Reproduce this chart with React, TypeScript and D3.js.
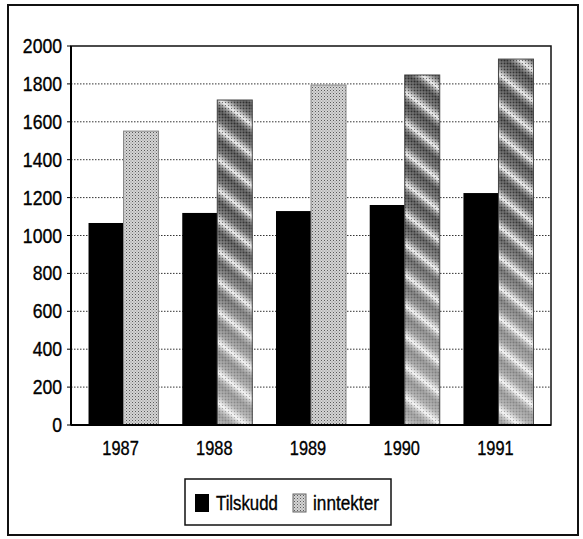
import * as d3 from 'd3';

const years = ['1987', '1988', '1989', '1990', '1991'];
const tilskudd = [1066, 1119, 1129, 1161, 1224];
const inntekter = [1551, 1715, 1794, 1847, 1931];
// fill style of the inntekter bar per year, as in the scanned print
const inntekterFill = ['stipple', 'stripes', 'stipple', 'stripes', 'stripes'];
const yTicks = [0, 200, 400, 600, 800, 1000, 1200, 1400, 1600, 1800, 2000];
const seriesNames = ['Tilskudd', 'inntekter'];

const W = 583;
const H = 539;
const plot = { left: 71, right: 551, top: 46, bottom: 425 };
const font = "'Liberation Sans', Arial, sans-serif";

// condensed text: Liberation Sans squeezed horizontally
function Narrow({ x, y, anchor = 'start', sx = 0.85, size = 20, children }: any) {
  return (
    <text
      transform={`translate(${x},${y}) scale(${sx},1)`}
      textAnchor={anchor}
      fontFamily={font}
      fontSize={size}
      fill="#000"
      stroke="#000"
      strokeWidth={0.35}
    >
      {children}
    </text>
  );
}

export default function App() {
  const y = d3.scaleLinear().domain([0, 2000]).range([plot.bottom, plot.top]);
  const x = d3
    .scaleBand<string>()
    .domain(years)
    .range([plot.left, plot.right])
    .paddingInner(0.253)
    .paddingOuter(0.187);
  const sub = d3
    .scaleBand<string>()
    .domain(seriesNames)
    .range([0, x.bandwidth()]);

  return (
    <svg
      width={W}
      height={H}
      style={{ position: 'absolute', left: 0, top: 0, background: '#fff' }}
    >
      <defs>
        <pattern id="stipple" width="3" height="3" patternUnits="userSpaceOnUse">
          <rect width="3" height="3" fill="#d4d4d4" />
          <rect x="0" y="0" width="1" height="1" fill="#5a5a5a" />
          <rect x="1.5" y="1.5" width="1" height="1" fill="#8a8a8a" />
        </pattern>
        <linearGradient id="band" x1="0" y1="0" x2="0" y2="1">
          <stop offset="0" stopColor="#4a4a4a" />
          <stop offset="0.35" stopColor="#6e6e6e" />
          <stop offset="0.55" stopColor="#c4c4c4" />
          <stop offset="0.65" stopColor="#ececec" />
          <stop offset="0.8" stopColor="#8a8a8a" />
          <stop offset="1" stopColor="#4a4a4a" />
        </linearGradient>
        <pattern
          id="stripeBase"
          width="24"
          height="24"
          patternUnits="userSpaceOnUse"
          patternTransform="rotate(38)"
        >
          <rect width="24" height="24" fill="url(#band)" />
        </pattern>
        <pattern id="dots" width="3" height="3" patternUnits="userSpaceOnUse">
          <rect x="0" y="0" width="1" height="1" fill="#111" opacity="0.55" />
          <rect x="1.5" y="1.5" width="1" height="1" fill="#fff" opacity="0.45" />
        </pattern>
        <linearGradient id="fade" x1="0" y1="0" x2="0" y2="1">
          <stop offset="0" stopColor="#fff" stopOpacity="0" />
          <stop offset="0.45" stopColor="#fff" stopOpacity="0.05" />
          <stop offset="0.75" stopColor="#fff" stopOpacity="0.35" />
          <stop offset="1" stopColor="#fff" stopOpacity="0.45" />
        </linearGradient>
      </defs>

      {/* outer frame */}
      <rect x={8} y={5} width={570} height={530} fill="none" stroke="#111" strokeWidth={2} />

      {/* grid */}
      {yTicks
        .filter((t) => t > 0 && t < 2000)
        .map((t) => (
          <line
            key={t}
            x1={plot.left}
            x2={plot.right}
            y1={y(t)}
            y2={y(t)}
            stroke="#333"
            strokeWidth={1}
            strokeDasharray="1.5,1.5"
          />
        ))}

      {/* bars */}
      {years.map((yr, i) => {
        const x0 = x(yr)!;
        const bw = sub.bandwidth();
        const xi = x0 + sub('inntekter')!;
        const top = y(inntekter[i]);
        const h = plot.bottom - top;
        return (
          <g key={yr}>
            <rect
              x={x0 + sub('Tilskudd')!}
              y={y(tilskudd[i])}
              width={bw}
              height={plot.bottom - y(tilskudd[i])}
              fill="#000"
            />
            {inntekterFill[i] === 'stipple' ? (
              <rect x={xi} y={top} width={bw} height={h} fill="url(#stipple)" stroke="#888" strokeWidth={1} />
            ) : (
              <g>
                <rect x={xi} y={top} width={bw} height={h} fill="url(#stripeBase)" />
                <rect x={xi} y={top} width={bw} height={h} fill="url(#dots)" />
                <rect x={xi} y={top} width={bw} height={h} fill="url(#fade)" stroke="#444" strokeWidth={1} />
              </g>
            )}
          </g>
        );
      })}

      {/* plot border */}
      <rect
        x={plot.left}
        y={plot.top}
        width={plot.right - plot.left}
        height={plot.bottom - plot.top}
        fill="none"
        stroke="#111"
        strokeWidth={1.5}
      />
      <line x1={plot.left} x2={plot.right} y1={plot.bottom} y2={plot.bottom} stroke="#000" strokeWidth={2} />
      <line x1={plot.left} x2={plot.left} y1={plot.top} y2={plot.bottom} stroke="#000" strokeWidth={2} />

      {/* y ticks */}
      {yTicks.map((t) => (
        <g key={t}>
          <line x1={plot.left - 4} x2={plot.left} y1={y(t)} y2={y(t)} stroke="#000" />
          <Narrow x={62} y={y(t) + 7} anchor="end" sx={0.88}>
            {t}
          </Narrow>
        </g>
      ))}

      {/* x labels */}
      {years.map((yr) => (
        <Narrow key={yr} x={x(yr)! + x.bandwidth() / 2 - 3} y={455} anchor="middle" sx={0.78} size={21}>
          {yr}
        </Narrow>
      ))}

      {/* legend */}
      <rect x={185} y={479} width={206} height={46} fill="#fff" stroke="#111" strokeWidth={1.5} />
      <rect x={195} y={494} width={14} height={18} fill="#000" />
      <Narrow x={216} y={510} sx={0.84}>
        {seriesNames[0]}
      </Narrow>
      <rect x={293} y={494} width={13} height={18} fill="url(#stipple)" stroke="#666" strokeWidth={1} />
      <Narrow x={313} y={510} sx={0.86}>
        {seriesNames[1]}
      </Narrow>
    </svg>
  );
}
